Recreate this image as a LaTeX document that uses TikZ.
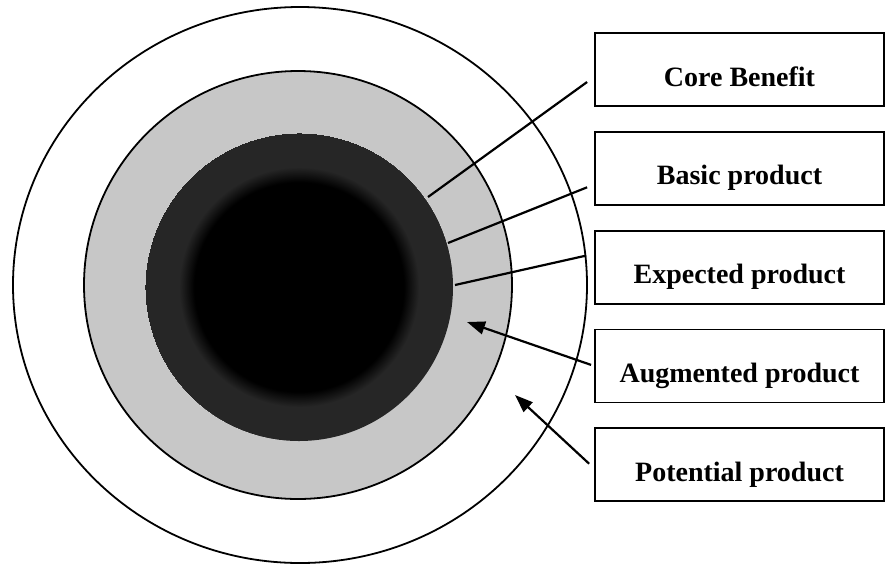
\documentclass[tikz,border=0pt]{standalone}
\usepackage{fontspec}
\setmainfont{Liberation Serif}
\usetikzlibrary{arrows.meta,positioning,calc}
\pgfdeclareradialshading{coreshade}{\pgfpointorigin}{color(0bp)=(black);color(17bp)=(black);color(19.5bp)=(black!85);color(25bp)=(black!85)}
\tikzset{
  lvlbox/.style={draw,line width=1.8pt,minimum width=289pt,minimum height=73pt,
    inner sep=0pt,text height=33pt,text depth=0pt,
    font=\fontsize{28}{32}\selectfont\bfseries},
  ring/.style={line width=1.8pt},
  lvlline/.style={line width=2.2pt},
  lvlarrow/.style={lvlline,-{Triangle[length=18pt,width=13pt]}},
}
\begin{document}
\begin{tikzpicture}[x=1pt,y=-1pt,node distance=24pt]
\useasboundingbox (0,0) rectangle (886,566);
% the layers
\draw[ring,fill=white] (300,285) ellipse [x radius=287,y radius=278];
\draw[ring,fill=black!22] (298,285) circle [radius=214];
\shade[shading=coreshade] (299,287) circle [radius=154];
% labels
\node[lvlbox] (core) at (739.5,69.5) {Core Benefit};
\node[lvlbox,below=of core] (basic) {Basic product};
\node[lvlbox,below=of basic] (expect) {Expected product};
\node[lvlbox,below=of expect] (augm) {Augmented product};
\node[lvlbox,below=of augm] (poten) {Potential product};
\coordinate (cbend) at (428,197);
\coordinate (bpend) at (448,243);
\coordinate (epend) at (455,285);
\coordinate (aptip) at (467,322);
\coordinate (pptip) at (515,395);
\draw[lvlline] ($(core.west)+(-7,12.5)$) -- (cbend);
\draw[lvlline] ($(basic.west)+(-7,19)$) -- (bpend);
\draw[lvlline] ($(expect.west)+(-8,-11.5)$) -- (epend);
\draw[lvlarrow] ($(augm.west)+(-3,-1)$) -- (aptip);
\draw[lvlarrow] ($(poten.west)+(-5,-1)$) -- (pptip);
\end{tikzpicture}
\end{document}
